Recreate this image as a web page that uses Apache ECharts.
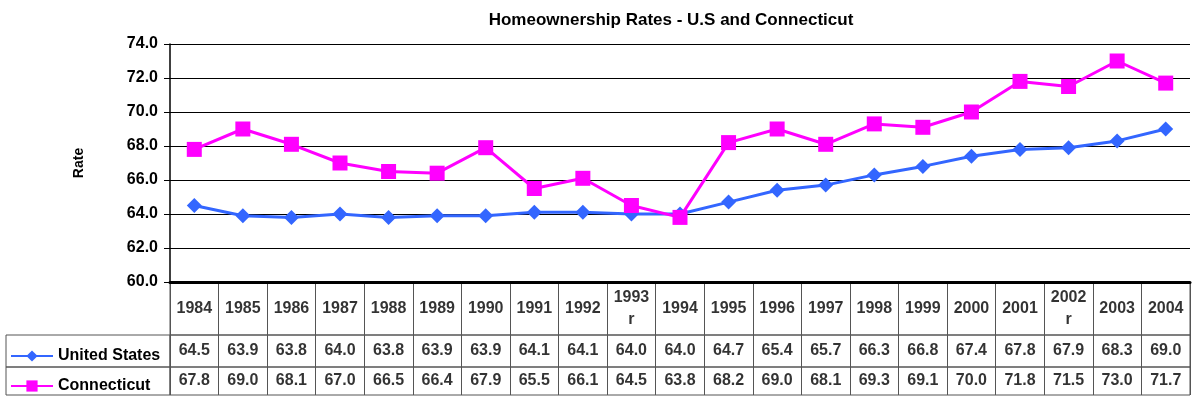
<!DOCTYPE html>
<html>
<head>
<meta charset="utf-8">
<script src="https://cdn.jsdelivr.net/npm/echarts@6/dist/echarts.min.js"></script>
<style>
html,body{margin:0;padding:0;background:#fff;}
#chart{width:1193px;height:402px;}
</style>
</head>
<body>
<div id="chart"></div>
<script>
const years = ['1984','1985','1986','1987','1988','1989','1990','1991','1992','1993\nr','1994','1995','1996','1997','1998','1999','2000','2001','2002\nr','2003','2004'];
const usValues = [64.5,63.9,63.8,64.0,63.8,63.9,63.9,64.1,64.1,64.0,64.0,64.7,65.4,65.7,66.3,66.8,67.4,67.8,67.9,68.3,69.0];
const ctValues = [67.8,69.0,68.1,67.0,66.5,66.4,67.9,65.5,66.1,64.5,63.8,68.2,69.0,68.1,69.3,69.1,70.0,71.8,71.5,73.0,71.7];
const seriesNames = ['United States','Connecticut'];
const yTicks = {min:60, max:74, interval:2};

const FONT = '"Liberation Sans", Arial, sans-serif';
const US_COLOR = '#3366FF';
const CT_COLOR = '#FF00FF';
const GRID_LINE = '#555';

const chart = echarts.init(document.getElementById('chart'));

const L = 170, R = 3;
function rowXAxis(gi){
  return {type:'category', gridIndex:gi, data:years, boundaryGap:true,
    axisLine:{show:false}, axisTick:{show:false}, axisLabel:{show:false},
    splitLine:{show:true, interval:0, lineStyle:{color:GRID_LINE, width:1}}};
}
function rowYAxis(gi, name){
  return {type:'category', gridIndex:gi, data:[name], show:false};
}
function textSeries(gi, rowName, vals, isHeader){
  return {type:'scatter', xAxisIndex:gi, yAxisIndex:gi, symbolSize:1,
    itemStyle:{color:'rgba(0,0,0,0)'}, silent:true, animation:false,
    data: vals.map((v,i)=>[years[i], rowName, v]),
    label:{show:true, position:'inside', color:'#000', fontFamily:FONT, fontWeight:'bold', fontSize:16, lineHeight:22,
      formatter: p => isHeader ? p.value[2] : Number(p.value[2]).toFixed(1)}};
}

const option = {
  backgroundColor:'#fff',
  animation:false,
  textStyle:{fontFamily:FONT},
  title:{text:'Homeownership Rates - U.S and Connecticut', left:666, top:7, textAlign:'center',
    textStyle:{fontFamily:FONT, fontWeight:'bold', fontSize:17, color:'#000'}},
  legend:[
    {data:['United States'], orient:'vertical', left:5, top:343, itemWidth:42, itemHeight:14,
      textStyle:{fontFamily:FONT, fontWeight:'bold', fontSize:16, color:'#000'}},
    {data:['Connecticut'], orient:'vertical', left:5, top:373, itemWidth:42, itemHeight:14,
      textStyle:{fontFamily:FONT, fontWeight:'bold', fontSize:16, color:'#000'}}
  ],
  grid:[
    {left:L, right:R, top:44, height:238},
    {left:L, right:R, top:282, height:53, show:true, borderColor:GRID_LINE, borderWidth:1},
    {left:L, right:R, top:335, height:32, show:true, borderColor:GRID_LINE, borderWidth:1},
    {left:L, right:R, top:367, height:28, show:true, borderColor:GRID_LINE, borderWidth:1},
    {left:6, width:164, top:335, height:32, show:true, borderColor:GRID_LINE, borderWidth:1},
    {left:6, width:164, top:367, height:28, show:true, borderColor:GRID_LINE, borderWidth:1}
  ],
  xAxis:[
    {type:'category', gridIndex:0, data:years, boundaryGap:true,
      axisLine:{show:true, lineStyle:{color:'#000', width:3}}, axisTick:{show:false}, axisLabel:{show:false}, splitLine:{show:false}},
    rowXAxis(1), rowXAxis(2), rowXAxis(3),
    {type:'category', gridIndex:4, data:['a'], show:false},
    {type:'category', gridIndex:5, data:['a'], show:false}
  ],
  yAxis:[
    {type:'value', gridIndex:0, min:yTicks.min, max:yTicks.max, interval:yTicks.interval,
      name:'Rate', nameLocation:'middle', nameGap:84, nameRotate:90,
      nameTextStyle:{fontFamily:FONT, fontWeight:'bold', fontSize:14, color:'#000'},
      axisLine:{show:true, lineStyle:{color:'#000', width:1.5}},
      axisTick:{show:true, length:6, lineStyle:{color:'#000'}},
      axisLabel:{margin:12, color:'#000', fontFamily:FONT, fontWeight:'bold', fontSize:16, formatter:v=>v.toFixed(1)},
      splitLine:{show:true, lineStyle:{color:'#000', width:1}}},
    rowYAxis(1,'Year'), rowYAxis(2,'US'), rowYAxis(3,'CT'),
    {type:'value', gridIndex:4, show:false},
    {type:'value', gridIndex:5, show:false}
  ],
  series:[
    {name:seriesNames[0], type:'line', xAxisIndex:0, yAxisIndex:0, data:usValues,
      symbol:'diamond', symbolSize:15, showAllSymbol:true,
      lineStyle:{color:US_COLOR, width:3}, itemStyle:{color:US_COLOR}, z:3},
    {name:seriesNames[1], type:'line', xAxisIndex:0, yAxisIndex:0, data:ctValues,
      symbol:'rect', symbolSize:15, showAllSymbol:true,
      lineStyle:{color:CT_COLOR, width:3}, itemStyle:{color:CT_COLOR}, z:3},
    textSeries(1, 'Year', years, true),
    textSeries(2, 'US', usValues, false),
    textSeries(3, 'CT', ctValues, false)
  ]
};
chart.setOption(option);
</script>
</body>
</html>
